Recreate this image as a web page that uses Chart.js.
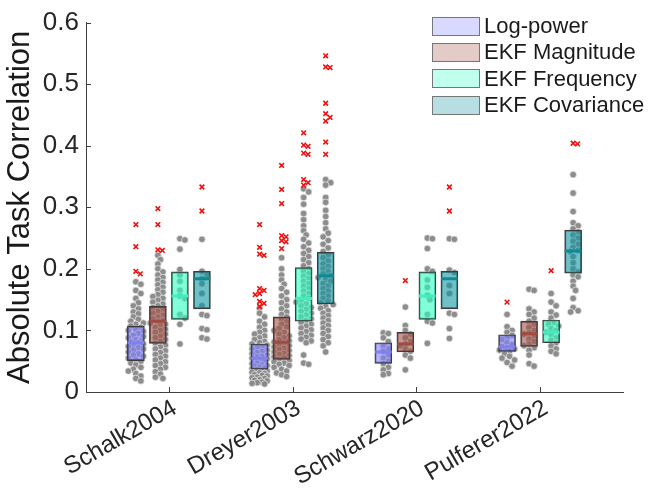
<!DOCTYPE html>
<html><head><meta charset="utf-8">
<script src="https://cdn.jsdelivr.net/npm/chart.js@4.4.0/dist/chart.umd.min.js"></script>
<style>
html,body{margin:0;padding:0;background:#fff;}
#wrap{position:relative;width:652px;height:495px;}
canvas{display:block;}
#legend{position:absolute;left:432px;top:13px;font:22px "Liberation Sans",Arial,sans-serif;color:#1a1a1a;}
.row{display:flex;align-items:center;height:26.3px;}
.sw{width:46px;height:17px;border:1.5px solid #777;margin-right:4px;box-sizing:content-box;}
</style></head>
<body><div id="wrap"><canvas id="c" width="652" height="495"></canvas><div id="legend"></div></div>
<script>
// ---------------- data ----------------
const categories = ['Schalk2004','Dreyer2003','Schwarz2020','Pulferer2022'];
const methods = ['Log-power','EKF Magnitude','EKF Frequency','EKF Covariance'];
const yTickValues = [0,0.1,0.2,0.3,0.4,0.5,0.6];

// box stats per category: [q1, median, q3]
const logPowerBox  = [[0.051,0.080,0.107],[0.037,0.055,0.078],[0.0465,0.065,0.080],[0.066,0.073,0.093]];
const magnitudeBox = [[0.079,0.115,0.139],[0.053,0.081,0.122],[0.065,0.078,0.097],[0.074,0.0945,0.115]];
const frequencyBox = [[0.118,0.156,0.195],[0.115,0.152,0.202],[0.118,0.156,0.195],[0.080,0.097,0.117]];
const covarianceBox= [[0.135,0.184,0.196],[0.143,0.189,0.227],[0.135,0.184,0.196],[0.193,0.229,0.263]];

// individual values (gray dots), per category
const logPowerPoints = [
 [0.179,0.175,0.165,0.16,0.152,0.145,0.14,0.135,0.13,0.127,0.122,0.118,0.115,0.112,0.11,0.107,0.105,0.102,0.1,0.098,0.095,0.092,0.09,0.088,0.085,0.083,0.081,0.08,0.078,0.076,0.074,0.072,0.07,0.068,0.065,0.062,0.06,0.058,0.055,0.052,0.05,0.047,0.044,0.04,0.037,0.034,0.03,0.026,0.022,0.018],
 [0.136,0.128,0.122,0.115,0.11,0.105,0.1,0.097,0.094,0.091,0.088,0.085,0.082,0.08,0.078,0.076,0.074,0.072,0.07,0.068,0.066,0.064,0.062,0.06,0.058,0.057,0.055,0.054,0.052,0.05,0.049,0.047,0.046,0.044,0.043,0.042,0.04,0.039,0.038,0.036,0.035,0.034,0.032,0.031,0.03,0.028,0.027,0.026,0.024,0.023,0.022,0.02,0.019,0.018,0.016,0.015,0.014,0.013],
 [0.096,0.095,0.088,0.082,0.075,0.07,0.066,0.06,0.055,0.05,0.046,0.04,0.036,0.03,0.028],
 [0.126,0.106,0.1,0.097,0.092,0.088,0.085,0.08,0.077,0.074,0.072,0.07,0.068,0.066,0.062,0.058,0.055,0.052,0.048,0.042]
];
const magnitudePoints = [
 [0.222,0.215,0.208,0.2,0.195,0.19,0.186,0.182,0.178,0.174,0.17,0.166,0.162,0.158,0.155,0.152,0.149,0.146,0.143,0.14,0.137,0.134,0.131,0.128,0.125,0.122,0.119,0.116,0.114,0.112,0.11,0.108,0.105,0.102,0.1,0.097,0.094,0.091,0.088,0.085,0.082,0.079,0.076,0.073,0.07,0.067,0.064,0.061,0.058,0.055,0.052,0.049,0.046,0.043,0.04,0.037,0.033,0.029,0.024,0.022],
 [0.218,0.2,0.19,0.182,0.175,0.168,0.162,0.156,0.15,0.145,0.14,0.135,0.13,0.126,0.122,0.118,0.114,0.11,0.106,0.103,0.1,0.097,0.094,0.091,0.088,0.085,0.083,0.081,0.079,0.077,0.075,0.073,0.071,0.069,0.067,0.065,0.063,0.061,0.059,0.057,0.055,0.053,0.051,0.049,0.047,0.045,0.043,0.04,0.037,0.034,0.031,0.028,0.025],
 [0.138,0.108,0.1,0.094,0.088,0.082,0.078,0.075,0.07,0.066,0.06,0.055,0.036],
 [0.167,0.165,0.135,0.13,0.126,0.12,0.115,0.11,0.105,0.1,0.096,0.094,0.09,0.086,0.082,0.078,0.075,0.072,0.068,0.06,0.046,0.042]
];
const frequencyPoints = [
 [0.249,0.247,0.232,0.199,0.19,0.18,0.165,0.156,0.152,0.126,0.12,0.11,0.078],
 [0.33,0.325,0.316,0.305,0.29,0.28,0.27,0.262,0.255,0.248,0.242,0.236,0.23,0.225,0.22,0.215,0.21,0.205,0.2,0.196,0.192,0.188,0.184,0.18,0.176,0.172,0.168,0.164,0.16,0.156,0.152,0.149,0.146,0.143,0.14,0.137,0.134,0.131,0.128,0.125,0.122,0.119,0.116,0.113,0.11,0.107,0.104,0.101,0.098,0.095,0.092,0.089,0.086,0.083,0.08,0.06,0.047,0.045],
 [0.25,0.249,0.233,0.2,0.196,0.182,0.17,0.157,0.15,0.126,0.115,0.112,0.079],
 [0.16,0.146,0.14,0.13,0.125,0.12,0.113,0.11,0.107,0.103,0.1,0.097,0.093,0.088,0.084,0.08,0.075,0.07,0.066,0.062]
];
const covariancePoints = [
 [0.248,0.196,0.19,0.184,0.176,0.16,0.14,0.126,0.124,0.103,0.101,0.088,0.086],
 [0.345,0.34,0.336,0.316,0.308,0.295,0.285,0.275,0.265,0.258,0.252,0.246,0.24,0.234,0.228,0.223,0.218,0.213,0.208,0.204,0.2,0.196,0.192,0.189,0.186,0.183,0.18,0.176,0.172,0.168,0.164,0.16,0.156,0.152,0.148,0.145,0.142,0.139,0.136,0.132,0.128,0.124,0.12,0.116,0.112,0.108,0.104,0.1,0.095,0.09,0.085,0.08,0.075,0.065],
 [0.249,0.248,0.198,0.194,0.173,0.16,0.128,0.126,0.103,0.087],
 [0.353,0.323,0.293,0.275,0.27,0.265,0.26,0.255,0.25,0.245,0.24,0.235,0.23,0.228,0.22,0.21,0.2,0.195,0.19,0.187,0.18,0.172,0.165,0.152,0.137,0.132,0.13]
];
// outliers (red crosses), per category
const logPowerOutliers  = [[0.272,0.236,0.196,0.192],[0.272,0.235,0.224,0.222,0.168,0.165,0.16,0.158,0.147,0.144,0.139],[],[0.146]];
const magnitudeOutliers = [[0.298,0.272,0.231,0.230],[0.368,0.329,0.306,0.254,0.252,0.246,0.244,0.233],[0.181],[]];
const frequencyOutliers = [[],[0.421,0.401,0.399,0.388,0.386,0.345,0.340,0.336],[],[0.197]];
const covarianceOutliers= [[0.333,0.294],[0.546,0.528,0.527,0.469,0.452,0.446,0.44,0.406,0.386],[0.333,0.294],[0.404,0.403]];

// ---------------- styling ----------------
const FONT = '"Liberation Sans", Arial, Helvetica, sans-serif';
const baseColors = [[128,128,255],[163,83,70],[43,255,190],[17,150,163]];
const medianColors = ['#8080f4','#a04a42','#3ef0c0','#0f8a94'];
const groupOffsets = [-0.267,-0.089,0.089,0.267];
const boxes = [logPowerBox, magnitudeBox, frequencyBox, covarianceBox];
const pointsAll = [logPowerPoints, magnitudePoints, frequencyPoints, covariancePoints];
const outliersAll = [logPowerOutliers, magnitudeOutliers, frequencyOutliers, covarianceOutliers];
const rgba = (c,a)=>`rgba(${c[0]},${c[1]},${c[2]},${a})`;

// beeswarm layout (pixel-based spacing converted to axis units)
const X_MIN = 0.33, X_MAX = 4.67, PLOT_W = 537, PLOT_H = 370, Y_MAX = 0.6;
const pxPerX = PLOT_W/(X_MAX-X_MIN), pxPerY = PLOT_H/Y_MAX;
function swarm(values, center, minD, step, maxOff){
  const sorted = values.slice().sort((a,b)=>b-a);
  const placed = [];
  const out = [];
  for (const v of sorted){
    const yp = v*pxPerY;
    let best = 0, bestScore = -1;
    const cands = [0];
    for (let k=1; k*step<=maxOff; k++){ cands.push(k*step, -k*step); }
    for (const o of cands){
      let md = Infinity;
      for (const p of placed){ const d = Math.hypot(p[0]-o, p[1]-yp); if (d<md) md=d; }
      if (md >= minD){ best = o; bestScore = Infinity; break; }
      if (md > bestScore){ bestScore = md; best = o; }
    }
    placed.push([best, yp]);
    out.push({x: center + best/pxPerX, y: v});
  }
  return out;
}

const datasets = [];
for (let m=0; m<4; m++){
  datasets.push({
    type:'bar', label: methods[m], order: 2, grouped:false,
    data: categories.map((c,i)=>({x: i+1+groupOffsets[m], y:[boxes[m][i][0], boxes[m][i][2]]})),
    backgroundColor: rgba(baseColors[m],0.6), borderColor:'#3c3c3c', borderWidth:1.2,
    borderSkipped:false, barThickness:17
  });
  datasets.push({
    type:'scatter', label: methods[m]+' median', order: 1,
    data: categories.map((c,i)=>({x: i+1+groupOffsets[m], y: boxes[m][i][1]})),
    pointStyle:'line', pointRadius:8.3, borderWidth:3, borderColor: medianColors[m], backgroundColor: medianColors[m]
  });
  let pts = [], outs = [];
  for (let i=0;i<4;i++){
    pts = pts.concat(swarm(pointsAll[m][i], i+1+groupOffsets[m], 4.8, 2.5, 8));
    outs = outs.concat(swarm(outliersAll[m][i], i+1+groupOffsets[m], 4.5, 2.2, 4.5));
  }
  datasets.push({
    type:'scatter', label: methods[m]+' values', order: 3, data: pts,
    pointRadius:3.3, backgroundColor:'rgba(135,135,135,0.95)', borderColor:'rgba(235,235,235,0.9)', borderWidth:0.8
  });
  datasets.push({
    type:'scatter', label: methods[m]+' outliers', order: 0, data: outs,
    pointStyle:'crossRot', pointRadius:3.3, borderColor:'#f01010', borderWidth:1.6
  });
}

const inwardTicks = {
  id:'inwardTicks',
  afterDraw(chart){
    const {ctx, chartArea:ca, scales:{x, y}} = chart;
    ctx.save();
    ctx.strokeStyle = '#404040'; ctx.lineWidth = 1;
    ctx.beginPath();
    for (const v of yTickValues){ const py = Math.round(y.getPixelForValue(v))+0.5; ctx.moveTo(ca.left, py); ctx.lineTo(ca.left+5, py); }
    for (let i=1;i<=categories.length;i++){ const px = Math.round(x.getPixelForValue(i))+0.5; ctx.moveTo(px, ca.bottom); ctx.lineTo(px, ca.bottom-5); }
    ctx.stroke();
    ctx.restore();
  }
};

new Chart(document.getElementById('c'), {
  type:'scatter',
  data:{datasets},
  options:{
    responsive:false, animation:false, devicePixelRatio:1,
    layout:{padding:{top:22,right:29,left:0,bottom:0}},
    plugins:{legend:{display:false}, tooltip:{enabled:false}},
    events:[],
    scales:{
      x:{type:'linear', min:X_MIN, max:X_MAX, offset:false,
        afterBuildTicks: s=>{ s.ticks = categories.map((c,i)=>({value:i+1})); },
        afterFit: s=>{ s.height = 103; },
        grid:{display:true, drawOnChartArea:false, drawTicks:false, offset:false},
        border:{display:true, color:'#404040', width:1},
        ticks:{autoSkip:false, minRotation:30, maxRotation:30, padding:2, labelOffset:6,
          color:'#262626', font:{family:FONT, size:24},
          callback:(v,i)=>categories[i]}
      },
      y:{min:0, max:Y_MAX,
        afterBuildTicks: s=>{ s.ticks = yTickValues.map(v=>({value:v})); },
        afterFit: s=>{ s.width = 86; },
        grid:{display:true, drawOnChartArea:false, drawTicks:false},
        border:{display:true, color:'#404040', width:1},
        ticks:{padding:7, color:'#262626', font:{family:FONT, size:26},
          callback:v=> v===0 ? '0' : v.toFixed(1)},
        title:{display:true, text:'Absolute Task Correlation', color:'#1a1a1a',
          font:{family:FONT, size:31}, padding:{top:2,bottom:0}}
      }
    }
  },
  plugins:[inwardTicks]
});

const leg = document.getElementById('legend');
methods.forEach((m,i)=>{
  const row = document.createElement('div'); row.className='row';
  const sw = document.createElement('div'); sw.className='sw'; sw.style.background = rgba(baseColors[i],0.3);
  const t = document.createElement('span'); t.textContent = m;
  row.appendChild(sw); row.appendChild(t); leg.appendChild(row);
});
</script>
</body></html>
